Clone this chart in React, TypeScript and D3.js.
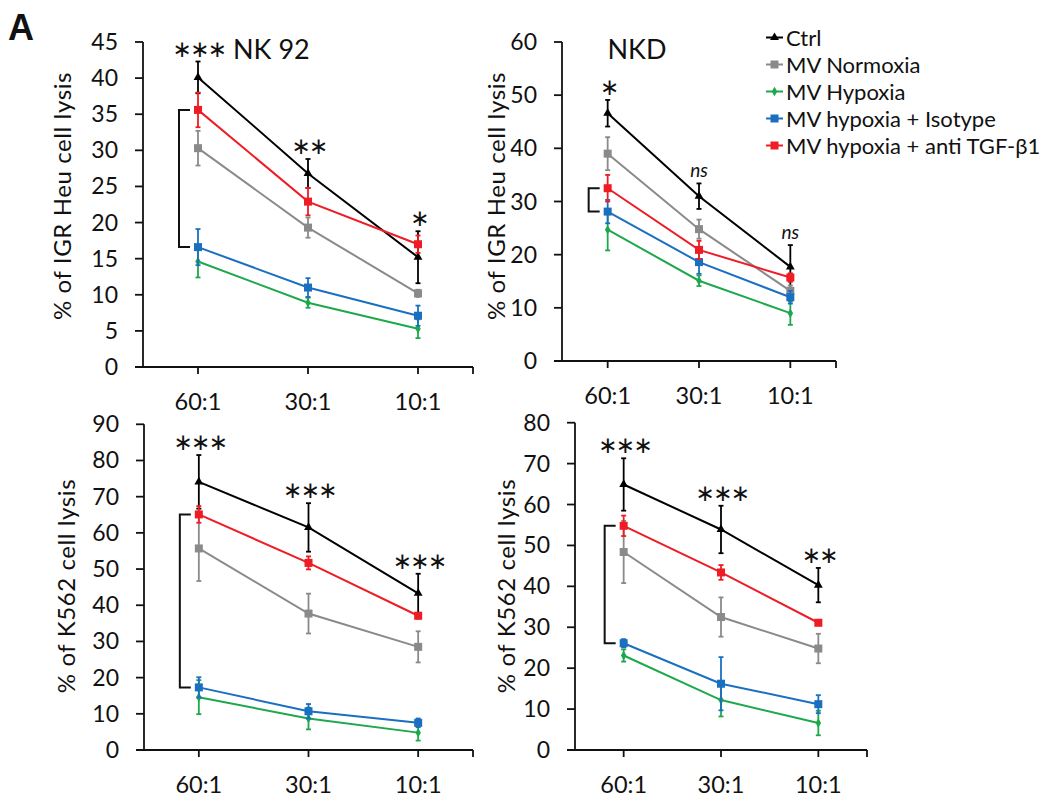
import React from "react";
import * as d3 from "d3";

// ---------- DATA ----------
const categories = ["60:1", "30:1", "10:1"];
const seriesNames = [
  "Ctrl",
  "MV Normoxia",
  "MV Hypoxia",
  "MV hypoxia + Isotype",
  "MV hypoxia + anti TGF-β1",
];

// rows follow seriesNames order; columns follow categories
const nk92Means = [
  [40.1, 26.8, 15.2],
  [30.3, 19.3, 10.2],
  [14.6, 8.9, 5.3],
  [16.6, 11.0, 7.1],
  [35.6, 22.9, 17.0],
];
const nk92Errors = [
  [2.2, 2.0, 3.6],
  [2.4, 1.4, 0.5],
  [2.2, 0.7, 1.3],
  [2.5, 1.3, 1.4],
  [2.4, 1.9, 1.2],
];
const nkdMeans = [
  [46.6, 31.0, 17.7],
  [39.0, 24.8, 13.2],
  [24.7, 15.1, 9.0],
  [28.1, 18.6, 12.0],
  [32.5, 20.9, 15.7],
];
const nkdErrors = [
  [2.5, 2.4, 4.1],
  [3.1, 1.8, 1.0],
  [3.9, 1.0, 2.2],
  [2.2, 2.2, 1.2],
  [2.5, 1.7, 0.8],
];
const k562aMeans = [
  [74.1, 61.5, 43.3],
  [55.7, 37.7, 28.5],
  [14.6, 8.7, 4.8],
  [17.3, 10.7, 7.5],
  [65.1, 51.7, 37.1],
];
const k562aErrors = [
  [7.4, 6.7, 5.4],
  [9.0, 5.5, 4.3],
  [4.7, 3.0, 2.2],
  [2.8, 2.0, 1.2],
  [2.3, 1.8, 0.8],
];
const k562bMeans = [
  [64.9, 53.9, 40.3],
  [48.4, 32.5, 24.8],
  [23.1, 12.2, 6.6],
  [26.1, 16.2, 11.2],
  [54.8, 43.4, 31.1],
];
const k562bErrors = [
  [6.4, 5.8, 4.2],
  [7.6, 4.8, 3.6],
  [1.5, 4.0, 3.0],
  [1.0, 6.5, 2.2],
  [2.5, 1.8, 0.6],
];

const nk92Sig = ["***", "**", "*"];
const nkdSig = ["*", "ns", "ns"];
const k562aSig = ["***", "***", "***"];
const k562bSig = ["***", "***", "**"];

const nk92Ticks = [0, 5, 10, 15, 20, 25, 30, 35, 40, 45];
const nkdTicks = [0, 10, 20, 30, 40, 50, 60];
const k562aTicks = [0, 10, 20, 30, 40, 50, 60, 70, 80, 90];
const k562bTicks = [0, 10, 20, 30, 40, 50, 60, 70, 80];

// ---------- STYLE ----------
const colors = ["#000000", "#8a8a8a", "#1ea84c", "#1b6fc0", "#ee1c25"];
const markers = ["triangle", "square", "diamond", "square", "square"];
const FONT = "Lato, 'Open Sans', sans-serif";

type Panel = {
  means: number[][];
  errors: number[][];
  sig: string[];
  ticks: number[];
  x0: number;
  x1: number;
  yTop: number;
  yBottom: number;
  yLabel: string;
  labelX: number;
  labelY: number;
  title?: string;
  titleX?: number;
  titleAnchor?: string;
};

const panels: Panel[] = [
  {
    means: nk92Means, errors: nk92Errors, sig: nk92Sig, ticks: nk92Ticks,
    x0: 143, x1: 473, yTop: 42, yBottom: 367,
    yLabel: "% of IGR Heu cell lysis", labelX: 71, labelY: 196,
    title: "NK 92", titleX: 233, titleAnchor: "start",
  },
  {
    means: nkdMeans, errors: nkdErrors, sig: nkdSig, ticks: nkdTicks,
    x0: 562, x1: 836, yTop: 42, yBottom: 361,
    yLabel: "% of IGR Heu cell lysis", labelX: 505, labelY: 196,
    title: "NKD", titleX: 637, titleAnchor: "middle",
  },
  {
    means: k562aMeans, errors: k562aErrors, sig: k562aSig, ticks: k562aTicks,
    x0: 144, x1: 473, yTop: 424.3, yBottom: 750,
    yLabel: "% of K562 cell lysis", labelX: 75, labelY: 586,
  },
  {
    means: k562bMeans, errors: k562bErrors, sig: k562bSig, ticks: k562bTicks,
    x0: 575, x1: 867, yTop: 422.7, yBottom: 750,
    yLabel: "% of K562 cell lysis", labelX: 515, labelY: 586,
  },
];

function Marker({ kind, x, y, color }: { kind: string; x: number; y: number; color: string }) {
  if (kind === "square") {
    return <rect x={x - 4} y={y - 4} width={8} height={8} fill={color} />;
  }
  const sym = kind === "triangle" ? d3.symbolTriangle : d3.symbolDiamond;
  const size = kind === "triangle" ? 34 : 26;
  const p = d3.symbol().type(sym).size(size)() as string;
  return <path d={p} transform={`translate(${x},${y})`} fill={color} />;
}

function Stars({ text, cx, cy }: { text: string; cx: number; cy: number }) {
  if (text === "ns") {
    return (
      <text x={cx} y={cy + 6} textAnchor="middle" fontFamily={FONT} fontStyle="italic" fontSize={19} fill="#111">
        ns
      </text>
    );
  }
  const ls = -1.6;
  const glyphs = text.replace(/\*/g, "∗");
  return (
    <text
      x={cx - ls / 2}
      y={cy + 7}
      textAnchor="middle"
      fontFamily="'DejaVu Sans', sans-serif"
      fontSize={23}
      letterSpacing={ls}
      fill="#111"
    >
      {glyphs}
    </text>
  );
}

function PanelView({ p }: { p: Panel }) {
  const xb = d3.scaleBand<string>().domain(categories).range([p.x0, p.x1]).padding(0);
  const xc = (c: string) => (xb(c) as number) + xb.bandwidth() / 2;
  const ymax = p.ticks[p.ticks.length - 1];
  const y = d3.scaleLinear().domain([0, ymax]).range([p.yBottom, p.yTop]);
  const line = d3
    .line<number>()
    .x((_, i) => xc(categories[i]))
    .y((v) => y(v));

  const bx = xc(categories[0]);
  const bTop = y(p.means[4][0]);
  const bBot = y(p.means[3][0]);

  return (
    <g>
      {/* y axis */}
      <line x1={p.x0} x2={p.x0} y1={p.yTop} y2={p.yBottom} stroke="#111" strokeWidth={1.8} />
      {p.ticks.map((t) => (
        <g key={t}>
          <line x1={p.x0 - 8} x2={p.x0} y1={y(t)} y2={y(t)} stroke="#111" strokeWidth={1.8} />
          <text x={p.x0 - 25} y={y(t) + 8} textAnchor="end" fontFamily={FONT} fontSize={23} fill="#111">
            {t}
          </text>
        </g>
      ))}
      {/* x axis */}
      <line x1={p.x0 - 8} x2={p.x1} y1={p.yBottom} y2={p.yBottom} stroke="#111" strokeWidth={1.8} />
      {categories.map((c) => (
        <g key={c}>
          <line x1={xc(c)} x2={xc(c)} y1={p.yBottom} y2={p.yBottom + 7} stroke="#111" strokeWidth={1.8} />
          <text x={xc(c)} y={p.yBottom + 43} textAnchor="middle" fontFamily={FONT} fontSize={23.5} fill="#111">
            {c}
          </text>
        </g>
      ))}
      <line x1={p.x1} x2={p.x1} y1={p.yBottom} y2={p.yBottom + 7} stroke="#111" strokeWidth={1.8} />
      {/* y label */}
      <text
        transform={`translate(${p.labelX},${p.labelY}) rotate(-90)`}
        textAnchor="middle"
        fontFamily={FONT}
        fontSize={24}
        letterSpacing={0.6}
        fill="#111"
      >
        {p.yLabel}
      </text>
      {/* series */}
      {p.means.map((vals, s) => (
        <g key={s}>
          {vals.map((v, i) => {
            const cx = xc(categories[i]);
            const e = p.errors[s][i];
            return (
              <g key={i} stroke={colors[s]} strokeWidth={1.8}>
                <line x1={cx} x2={cx} y1={y(v + e)} y2={y(v - e)} />
                <line x1={cx - 2.5} x2={cx + 2.5} y1={y(v + e)} y2={y(v + e)} />
                <line x1={cx - 2.5} x2={cx + 2.5} y1={y(v - e)} y2={y(v - e)} />
              </g>
            );
          })}
          <path d={line(vals) as string} fill="none" stroke={colors[s]} strokeWidth={2} />
          {vals.map((v, i) => (
            <Marker key={i} kind={markers[s]} x={xc(categories[i])} y={y(v)} color={colors[s]} />
          ))}
        </g>
      ))}
      {/* bracket */}
      <path
        d={`M${bx - 8},${bTop} H${bx - 19} V${bBot} H${bx - 8}`}
        fill="none"
        stroke="#111"
        strokeWidth={2}
      />
      {/* significance */}
      {p.sig.map((sg, i) => (
        <Stars key={i} text={sg} cx={xc(categories[i])} cy={y(p.means[0][i] + p.errors[0][i]) - 12} />
      ))}
      {p.title && (
        <text
          x={p.titleX}
          y={59}
          textAnchor={p.titleAnchor as any}
          fontFamily={FONT}
          fontSize={27}
          fill="#111"
        >
          {p.title}
        </text>
      )}
    </g>
  );
}

function Legend() {
  const x0 = 766;
  const x1 = 783;
  const top = 37.5;
  const pitch = 27;
  return (
    <g>
      {seriesNames.map((name, i) => {
        const cy = top + i * pitch;
        return (
          <g key={name}>
            <line x1={x0} x2={x1} y1={cy} y2={cy} stroke={colors[i]} strokeWidth={2} />
            <Marker kind={markers[i]} x={(x0 + x1) / 2} y={cy} color={colors[i]} />
            <text x={786} y={cy + 8} fontFamily={FONT} fontSize={22} fill="#111">
              {name}
            </text>
          </g>
        );
      })}
    </g>
  );
}

export default function App() {
  return (
    <svg
      width={1047}
      height={803}
      style={{ position: "absolute", left: 0, top: 0, background: "#fff" }}
    >
      <rect width={1047} height={803} fill="#fff" />
      <text x={8} y={40} fontFamily="'Liberation Sans', Arial, sans-serif" fontWeight="bold" fontSize={36} fill="#111">
        A
      </text>
      {panels.map((p, i) => (
        <PanelView key={i} p={p} />
      ))}
      <Legend />
    </svg>
  );
}
